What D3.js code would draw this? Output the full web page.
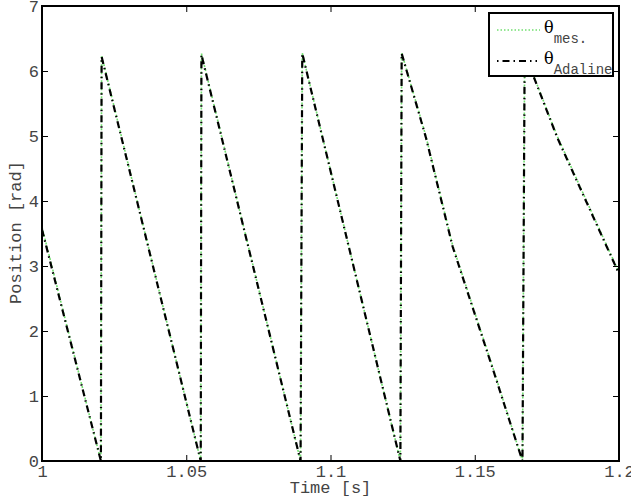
<!DOCTYPE html>
<html>
<head>
<meta charset="utf-8">
<script src="https://cdn.jsdelivr.net/npm/d3@7"></script>
<style>
  body { margin: 0; background: #fff; }
  svg text { font-family: "Courier New", "Liberation Mono", monospace; fill: #444; }
</style>
</head>
<body>
<figure id="chart" style="margin:0"></figure>
<script>
// time stamps [s]
const timeS = [1.0000, 1.02042, 1.02066, 1.05502, 1.05526, 1.08962, 1.09021, 1.12422,
  1.12467, 1.13311, 1.14232, 1.15675, 1.16654, 1.16730, 1.17865, 1.2000];
// measured position [rad]
const thetaMes = [3.60, 0.00, 6.24, 0.00, 6.27, 0.00, 6.28, 0.00,
  6.28, 4.99, 3.32, 1.37, 0.00, 6.28, 4.99, 2.90];
// Adaline estimate [rad]
const thetaAdaline = [3.56, 0.00, 6.22, 0.00, 6.25, 0.00, 6.27, 0.00,
  6.27, 4.97, 3.30, 1.35, 0.00, 6.27, 4.97, 2.88];

const xTicks = [1, 1.05, 1.1, 1.15, 1.2];
const yTicks = [0, 1, 2, 3, 4, 5, 6, 7];

const W = 631, H = 498;
const margin = { left: 42, right: 12, top: 6, bottom: 37 };

const svg = d3.select('#chart')
  .append('svg')
  .attr('width', W)
  .attr('height', H);

const x = d3.scaleLinear()
  .domain([1, 1.2])
  .range([margin.left, W - margin.right]);

const y = d3.scaleLinear()
  .domain([0, 7])
  .range([H - margin.bottom, margin.top]);

const line = d3.line()
  .x((d, i) => x(timeS[i]))
  .y(d => y(d));

// series
svg.append('path')
  .datum(thetaMes)
  .attr('d', line)
  .attr('fill', 'none')
  .attr('stroke', '#72e070')
  .attr('stroke-width', 1.6)
  .attr('stroke-dasharray', '2,2');

svg.append('path')
  .datum(thetaAdaline)
  .attr('d', line)
  .attr('fill', 'none')
  .attr('stroke', '#000')
  .attr('stroke-width', 2.2)
  .attr('stroke-dasharray', '7,4,1.5,4');

// axes (ticks point inward, mirrored on top/right)
const tickLen = 6;
const axBottom = svg.append('g')
  .attr('transform', 'translate(0,' + y(0) + ')')
  .call(d3.axisBottom(x).tickValues(xTicks).tickSize(-tickLen).tickPadding(4)
    .tickFormat(d => String(+d.toFixed(2))));
const axTop = svg.append('g')
  .attr('transform', 'translate(0,' + y(7) + ')')
  .call(d3.axisTop(x).tickValues(xTicks).tickSize(-tickLen).tickFormat(''));
const axLeft = svg.append('g')
  .attr('transform', 'translate(' + x(1) + ',0)')
  .call(d3.axisLeft(y).tickValues(yTicks).tickSize(-tickLen).tickPadding(3)
    .tickFormat(d3.format('d')));
const axRight = svg.append('g')
  .attr('transform', 'translate(' + x(1.2) + ',0)')
  .call(d3.axisRight(y).tickValues(yTicks).tickSize(-tickLen).tickFormat(''));

[axBottom, axTop, axLeft, axRight].forEach(g => {
  g.select('.domain').remove();
  g.selectAll('line').attr('stroke', '#000').attr('stroke-width', 1);
  g.selectAll('text')
    .style('font-family', '"Courier New", "Liberation Mono", monospace')
    .style('font-size', '17px')
    .attr('fill', '#444');
});
axBottom.selectAll('text').attr('dy', '0.71em');

// frame
svg.append('rect')
  .attr('x', x(1)).attr('y', y(7))
  .attr('width', x(1.2) - x(1)).attr('height', y(0) - y(7))
  .attr('fill', 'none')
  .attr('stroke', '#000')
  .attr('stroke-width', 2);

// labels
svg.append('text')
  .attr('x', (x(1) + x(1.2)) / 2)
  .attr('y', 493)
  .attr('text-anchor', 'middle')
  .style('font-size', '17px')
  .text('Time [s]');

svg.append('text')
  .attr('transform', 'translate(21,' + ((y(0) + y(7)) / 2 - 1) + ') rotate(-90)')
  .attr('text-anchor', 'middle')
  .style('font-size', '17px')
  .text('Position [rad]');

// legend
const lg = svg.append('g');
lg.append('rect')
  .attr('x', 489).attr('y', 13)
  .attr('width', 124).attr('height', 63)
  .attr('fill', '#fff')
  .attr('stroke', '#000')
  .attr('stroke-width', 2);

lg.append('line')
  .attr('x1', 497).attr('x2', 540).attr('y1', 30).attr('y2', 30)
  .attr('stroke', '#72e070').attr('stroke-width', 1.6)
  .attr('stroke-dasharray', '1.5,2');
lg.append('line')
  .attr('x1', 497).attr('x2', 537).attr('y1', 61).attr('y2', 61)
  .attr('stroke', '#000').attr('stroke-width', 2.2)
  .attr('stroke-dasharray', '1.5,4,7,4');

const legendItems = [
  { sub: 'mes.', yBase: 33 },
  { sub: 'Adaline', yBase: 64 }
];
legendItems.forEach(d => {
  const t = lg.append('text')
    .attr('x', 544).attr('y', d.yBase)
    .style('fill', '#000');
  t.append('tspan')
    .style('font-family', '"DejaVu Serif", "Liberation Serif", serif')
    .style('font-size', '16px')
    .text('θ');
  t.append('tspan')
    .attr('dy', 10)
    .style('font-size', '14px')
    .style('fill', '#444')
    .text(d.sub);
});
</script>
</body>
</html>
